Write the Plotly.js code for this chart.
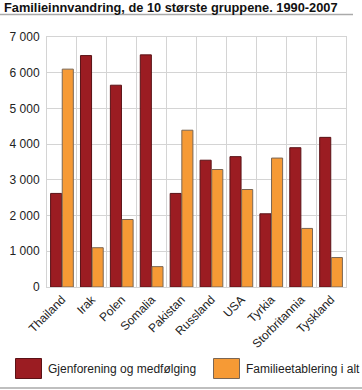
<!DOCTYPE html>
<html>
<head>
<meta charset="utf-8">
<script src="https://cdn.plot.ly/plotly-3.0.1.min.js"></script>
<style>
html,body{margin:0;padding:0;background:#fff;}
#chart{width:362px;height:390px;}
</style>
</head>
<body>
<div id="chart"></div>
<script>
const categories = ["Thailand","Irak","Polen","Somalia","Pakistan","Russland","USA","Tyrkia","Storbritannia","Tyskland"];
const gjenforening = [2620, 6480, 5650, 6500, 2620, 3550, 3650, 2050, 3900, 4190];
const familieetablering = [6100, 1100, 1890, 570, 4390, 3290, 2730, 3610, 1640, 825];
const seriesNames = ["Gjenforening og medfølging", "Familieetablering i alt"];
const yTicks = [0, 1000, 2000, 3000, 4000, 5000, 6000, 7000];
const titleText = "Familieinnvandring, de 10 største gruppene. 1990-2007";

const W = 362, H = 390;
const M = {l: 47, r: 16, t: 37, b: 103};
const pw = W - M.l - M.r, ph = H - M.t - M.b;
const px = x => (x - M.l) / pw;
const py = y => (H - M.b - y) / ph;

const red = "#9b1c22", orange = "#f69a35";
const font = "Liberation Sans, Arial, sans-serif";

const traces = [
  {type: "bar", name: seriesNames[0], x: categories, y: gjenforening,
   marker: {color: red, line: {color: "#5a1216", width: 1}}, showlegend: false},
  {type: "bar", name: seriesNames[1], x: categories, y: familieetablering,
   marker: {color: orange, line: {color: "#7a6654", width: 1}}, showlegend: false}
];

const layout = {
  width: W, height: H,
  margin: M,
  paper_bgcolor: "#fff", plot_bgcolor: "#fff",
  separators: ", ",
  barmode: "group", bargap: 0.22, bargroupgap: 0.05,
  font: {family: font, size: 12, color: "#222"},
  title: {text: titleText, x: 4 / W, xanchor: "left", xref: "container",
          y: 1 - 8 / H, yanchor: "middle", yref: "container",
          font: {family: font, size: 12.8, color: "#111", weight: "bold"}},
  xaxis: {type: "category", tickson: "boundaries", showgrid: true, gridcolor: "#d4d4d4", gridwidth: 1,
          tickangle: -45, ticks: "", showline: true, linecolor: "#d4d4d4", mirror: true,
          tickfont: {size: 12}, zeroline: false},
  yaxis: {range: [0, 7000], tickvals: yTicks, tickformat: ",d", showgrid: true, gridcolor: "#d4d4d4",
          gridwidth: 1, ticks: "", showline: true, linecolor: "#d4d4d4", mirror: true, zeroline: false,
          tickfont: {size: 12}, ticklabelstandoff: 4},
  shapes: [
    {type: "line", xref: "paper", yref: "paper", x0: px(0), x1: px(353), y0: py(14.5), y1: py(14.5),
     line: {color: "#aaaaaa", width: 1.5}},
    {type: "line", xref: "paper", yref: "paper", x0: px(0), x1: px(362), y0: py(388), y1: py(388),
     line: {color: "#aaaaaa", width: 1.5}},
    {type: "rect", xref: "paper", yref: "paper", x0: px(15.5), x1: px(41.5), y0: py(358.5), y1: py(378.5),
     fillcolor: red, line: {color: "#5a1216", width: 1}},
    {type: "rect", xref: "paper", yref: "paper", x0: px(213.5), x1: px(239.5), y0: py(358.5), y1: py(378.5),
     fillcolor: orange, line: {color: "#7a6654", width: 1}}
  ],
  annotations: [
    {text: seriesNames[0], xref: "paper", yref: "paper", x: px(46), y: py(368.5), xanchor: "left",
     yanchor: "middle", showarrow: false, font: {size: 12, color: "#222"}},
    {text: seriesNames[1], xref: "paper", yref: "paper", x: px(244), y: py(368.5), xanchor: "left",
     yanchor: "middle", showarrow: false, font: {size: 12, color: "#222"}}
  ]
};

Plotly.newPlot("chart", traces, layout, {displayModeBar: false, staticPlot: true});
</script>
</body>
</html>
